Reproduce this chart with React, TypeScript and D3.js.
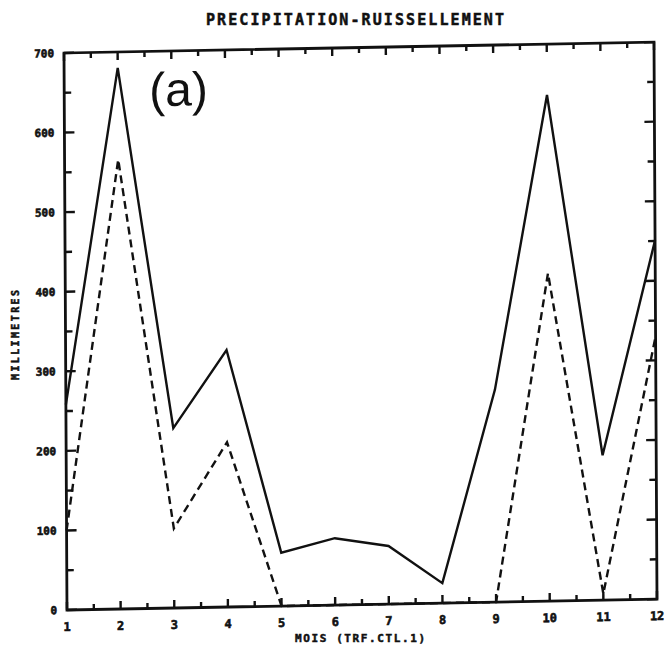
import React from "react";
import * as d3 from "d3";

const months = [1, 2, 3, 4, 5, 6, 7, 8, 9, 10, 11, 12];
const precipitation = [258, 680, 226, 323, 67, 84, 73, 25, 267, 636, 182, 451];
const runoff = [100, 565, 100, 207, 0, 0, 0, 0, 0, 412, 8, 330];
const yTickValues = [0, 100, 200, 300, 400, 500, 600, 700];
const yTickLabels = ["0", "100", "200", "300", "400", "500", "600", "700"];
const title = "PRECIPITATION-RUISSELLEMENT";
const xTitle = "MOIS (TRF.CTL.1)";
const yTitle = "MILLIMETRES";
const panelTag = "(a)";

const W = 665;
const H = 649;
const L = 67, R = 657, T = 53, B = 610;
const ky = -0.0185; // scan skew
const kx = 0.0054;

export default function App() {
  const x = d3.scaleLinear().domain([1, 12]).range([L, R]);
  const y = d3.scaleLinear().domain([0, 700]).range([B, T]);
  const line = d3
    .line<number>()
    .x((_, i) => x(months[i]))
    .y((d) => y(d));

  const xMinor = d3.range(1, 12.01, 0.5);
  const yMinor = d3.range(0, 700.1, 50);
  const font = "'DejaVu Sans Mono', monospace";
  const ink = "#111";

  const m = `matrix(1, ${ky}, ${kx}, 1, ${-kx * B}, ${-ky * L})`;

  return (
    <svg width={W} height={H} style={{ position: "absolute", left: 0, top: 0, background: "#fff" }}>
      <rect width={W} height={H} fill="#fff" />
      <text
        x={355}
        y={25}
        textAnchor="middle"
        fontFamily={font}
        fontWeight="bold"
        fontSize={15}
        textLength={298}
        lengthAdjust="spacing"
        fill={ink}
        stroke={ink}
        strokeWidth={0.5}
      >
        {title}
      </text>
      <g transform={m}>
        {xMinor.map((v) => {
          const major = Math.abs(v - Math.round(v)) < 1e-6;
          const len = major ? 8 : 5.5;
          return (
            <g key={"xt" + v}>
              <path d={`M${x(v)},${B}V${B - len}`} stroke={ink} strokeWidth={2.4} />
              <path d={`M${x(v)},${T}V${T + len}`} stroke={ink} strokeWidth={2.4} />
            </g>
          );
        })}
        {yMinor.map((v) => {
          const major = v % 100 === 0;
          const len = major ? 10 : 7;
          return (
            <g key={"yt" + v}>
              <path d={`M${L},${y(v)}H${L + len}`} stroke={ink} strokeWidth={2.4} />
              <path d={`M${R},${y(v)}H${R - len}`} stroke={ink} strokeWidth={2.4} />
            </g>
          );
        })}
        <rect x={L} y={T} width={R - L} height={B - T} fill="none" stroke={ink} strokeWidth={2.8} />
        {yTickValues.map((v, i) => (
          <text
            key={"yl" + v}
            x={L - 10}
            y={y(v) + 4}
            textAnchor="end"
            fontFamily={font}
            fontWeight="bold"
            fontSize={11}
            fill={ink}
            stroke={ink}
            strokeWidth={0.6}
          >
            {yTickLabels[i]}
          </text>
        ))}
        {months.map((mo) => (
          <text
            key={"xl" + mo}
            x={x(mo)}
            y={B + 21}
            textAnchor="middle"
            fontFamily={font}
            fontWeight="bold"
            fontSize={12}
            fill={ink}
            stroke={ink}
            strokeWidth={0.6}
          >
            {String(mo)}
          </text>
        ))}
        <path d={line(precipitation) || ""} fill="none" stroke={ink} strokeWidth={2.4} strokeLinejoin="miter" />
        <path
          d={line(runoff) || ""}
          fill="none"
          stroke={ink}
          strokeWidth={2.4}
          strokeDasharray="8 5"
        />
        <text x={152} y={108} fontFamily="'Liberation Sans', Arial, sans-serif" fontSize={48} fill={ink}>
          {panelTag}
        </text>
      </g>
      <text
        x={360}
        y={642}
        textAnchor="middle"
        fontFamily={font}
        fontWeight="bold"
        fontSize={11}
        textLength={130}
        lengthAdjust="spacing"
        fill={ink}
        stroke={ink}
        strokeWidth={0.5}
      >
        {xTitle}
      </text>
      <text
        transform={`translate(19, 335) rotate(-90)`}
        textAnchor="middle"
        fontFamily={font}
        fontWeight="bold"
        fontSize={10}
        textLength={90}
        lengthAdjust="spacing"
        fill={ink}
        stroke={ink}
        strokeWidth={0.5}
      >
        {yTitle}
      </text>
    </svg>
  );
}
